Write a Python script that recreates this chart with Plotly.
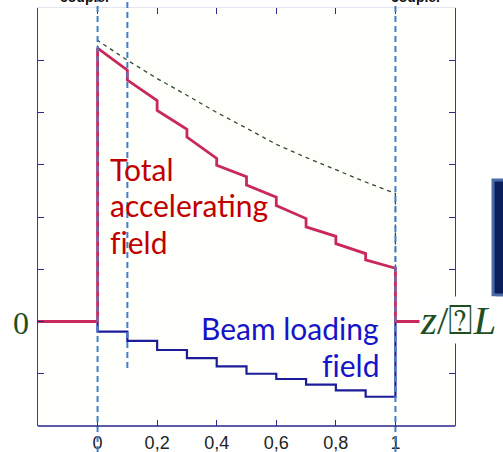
import plotly.graph_objects as go

# ---- data ----
seg_starts = [0.0, 0.1, 0.2, 0.3, 0.4, 0.5, 0.6, 0.7, 0.8, 0.9]
seg_end = 1.0
# total accelerating field: value at start and end of each 0.1 cell
red_start = [5.23, 4.62, 4.04, 3.53, 2.99, 2.61, 2.22, 1.81, 1.49, 1.18]
red_end = [4.81, 4.23, 3.68, 3.12, 2.77, 2.38, 1.97, 1.63, 1.30, 1.02]
# beam loading field (constant in each cell)
blue_vals = [-0.195, -0.37, -0.545, -0.70, -0.86, -1.00, -1.10, -1.21, -1.32, -1.44]
# unloaded field (dotted)
green_z = [0.0, 0.1, 0.2, 0.3, 0.4, 0.5, 0.6, 0.7, 0.8, 0.9, 1.0]
green_vals = [5.38, 5.00, 4.65, 4.33, 4.00, 3.70, 3.39, 3.14, 2.90, 2.67, 2.45]
x_ticks = [0, 0.2, 0.4, 0.6, 0.8, 1]
x_ticktext = ["0", "0,2", "0,4", "0,6", "0,8", "1"]
y_ticks = [-1, 0, 1, 2, 3, 4, 5]
x_range = [-0.2, 1.2]
y_range = [-2, 6]
coupler_marks = [0.0, 0.1, 1.0]

# ---- build step curves ----
rx, ry = [x_range[0], 0.0], [0.0, 0.0]
for i, s in enumerate(seg_starts):
    e = seg_starts[i + 1] if i + 1 < len(seg_starts) else seg_end
    rx += [s, e]
    ry += [red_start[i], red_end[i]]
rx += [seg_end, x_range[1]]
ry += [0.0, 0.0]

bx = [0.0] + seg_starts + [seg_end, seg_end]
by = [0.0] + blue_vals + [blue_vals[-1], 0.0]

gx = [0.0] + green_z + [seg_end]
gy = [0.0] + green_vals + [red_end[-1]]

fig = go.Figure()
fig.add_trace(go.Scatter(x=gx, y=gy, mode="lines",
                         line=dict(color="#2f4a2f", width=1.3, dash="4px,4px"),
                         hoverinfo="skip"))
fig.add_trace(go.Scatter(x=bx, y=by, mode="lines", line_shape="hv",
                         line=dict(color="#1c1c9a", width=2.2), hoverinfo="skip"))
fig.add_trace(go.Scatter(x=rx, y=ry, mode="lines",
                         line=dict(color="#c8285a", width=2.8), hoverinfo="skip"))

L, T, W, H = 38, 8, 417, 418


def px(xp):
    return (xp - L) / W


def py(yp):
    return (T + H - yp) / H


shapes = []
for zc in coupler_marks:
    bottom = py(452) if zc != 0.1 else py(368)
    shapes.append(dict(type="line", xref="x", yref="paper", x0=zc, x1=zc,
                       y0=bottom, y1=py(0), layer="above",
                       line=dict(color="#3f7ec9", width=2, dash="6px,4px")))
# bottom axis line
shapes.append(dict(type="line", xref="paper", yref="paper", x0=0, x1=1, y0=0, y1=0,
                   line=dict(color="#2b2b8c", width=1.5), layer="above"))
# dark block at right edge
shapes.append(dict(type="rect", xref="paper", yref="paper", x0=px(493), x1=px(506),
                   y0=py(295), y1=py(180), fillcolor="#0b1f5c",
                   line=dict(color="#4a6aa8", width=3)))
fig.update_layout(shapes=shapes)

red_txt = "#c00000"
blue_txt = "#1414c8"
green_txt = "#1f4f1f"
ann = []
for t, yb in [("Total", 180.7), ("accelerating", 216.7), ("f\u200cield", 254)]:
    ann.append(dict(text=t, xref="paper", yref="paper", x=px(108), y=py(yb - 11.6),
                    xanchor="left", yanchor="middle", showarrow=False,
                    font=dict(family="Lato", size=30, color=red_txt)))
for t, yb in [("Beam loading", 339.3), ("f\u200cield", 377)]:
    ann.append(dict(text=t, xref="paper", yref="paper", x=px(381), y=py(yb - 11.6),
                    xanchor="right", yanchor="middle", showarrow=False,
                    font=dict(family="Lato", size=30, color=blue_txt)))
ann.append(dict(text="0", xref="paper", yref="y", x=px(20.7), y=0, yshift=-1,
                xanchor="center", yanchor="middle", showarrow=False,
                font=dict(family="Liberation Serif", size=32, color=green_txt)))
ann.append(dict(text="<i>z</i>/⍰<i>L</i>", xref="paper", yref="y", x=px(419), y=0,
                yshift=2, xanchor="left", yanchor="middle", showarrow=False,
                bgcolor="white", borderpad=0,
                font=dict(family="Liberation Serif", size=41, color=green_txt)))
for xc in [85, 416]:
    ann.append(dict(text="<b>coupler</b>", xref="paper", yref="paper", x=px(xc), y=1,
                    yshift=1, xanchor="center", yanchor="bottom", showarrow=False,
                    font=dict(family="Liberation Sans", size=14, color="#111")))
fig.update_layout(annotations=ann)

fig.update_layout(
    width=503, height=452,
    margin=dict(l=L, r=503 - L - W, t=T, b=452 - T - H, pad=0, autoexpand=False),
    paper_bgcolor="white", plot_bgcolor="#fefefb",
    showlegend=False,
    xaxis=dict(range=x_range, tickvals=x_ticks, ticktext=x_ticktext,
               ticks="inside", ticklen=6, tickcolor="#2b2b8c", tickwidth=1,
               showline=True, linecolor="#e4e4f4", mirror="ticks",
               showgrid=False, zeroline=False, automargin=False,
               tickfont=dict(family="Liberation Sans", size=18, color="#222")),
    yaxis=dict(range=y_range, tickvals=y_ticks, showticklabels=False,
               ticks="inside", ticklen=6, tickcolor="#2b2b8c", tickwidth=1,
               showline=True, linecolor="#444", mirror="ticks",
               showgrid=False, zeroline=False, automargin=False),
)

fig.write_html("out.html")
